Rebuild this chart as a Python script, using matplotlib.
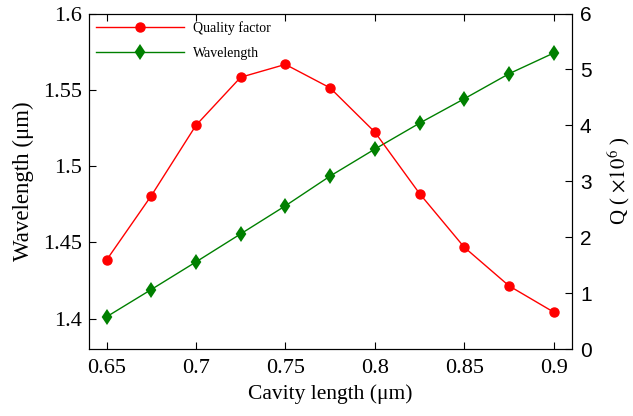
import matplotlib.pyplot as plt

# datos
longitud = [0.65, 0.675, 0.7, 0.725, 0.75, 0.775, 0.8, 0.825, 0.85, 0.875, 0.9]
onda = [1.4011, 1.4190, 1.4371, 1.4555, 1.4739, 1.4934, 1.5111, 1.5281, 1.5441, 1.5605, 1.5741]
factor_q = [1.59, 2.74, 4.00, 4.86, 5.09, 4.67, 3.88, 2.78, 1.82, 1.13, 0.66]

xticks = [0.65, 0.7, 0.75, 0.8, 0.85, 0.9]
xlabels = ["0.65", "0.7", "0.75", "0.8", "0.85", "0.9"]
yticks = [1.4, 1.45, 1.5, 1.55, 1.6]
ylabels = ["1.4", "1.45", "1.5", "1.55", "1.6"]
qticks = [0, 1, 2, 3, 4, 5, 6]

plt.rcParams['font.family'] = ['Liberation Serif', 'DejaVu Serif']
plt.rcParams['mathtext.fontset'] = 'stix'

fig = plt.figure(figsize=(6.33, 4.16), dpi=100)
ax = fig.add_axes([0.140, 0.161, 0.763, 0.8065])
ax2 = ax.twinx()

l2, = ax.plot(longitud, onda, color='#008000', marker='d', markersize=6.5,
              markeredgewidth=1.6, linewidth=1.0, label='Wavelength')
l1, = ax2.plot(longitud, factor_q, color='#ff0000', marker='o', markersize=6.5,
               linewidth=1.0, label='Quality factor')

ax.set_xlim(0.64, 0.91)
ax.set_ylim(1.38, 1.6)
ax2.set_ylim(0, 6)

ax.set_xticks(xticks)
ax.set_xticklabels(xlabels, fontsize=16)
ax.set_yticks(yticks)
ax.set_yticklabels(ylabels, fontsize=16)
ax2.set_yticks(qticks)
ax2.set_yticklabels([str(q) for q in qticks], fontsize=15, family='Liberation Sans')

ax.tick_params(direction='in', top=True, length=5, width=0.8)
ax.tick_params(axis='x', pad=7)
ax.tick_params(axis='y', pad=5)
ax2.tick_params(direction='in', length=5, width=0.8, pad=6)

ax.set_xlabel("Cavity length (μm)", fontsize=15.5, labelpad=5)
ax.set_ylabel("Wavelength (μm)", fontsize=16.5, labelpad=6)
ax2.set_ylabel(r"Q ( $\times10^6$ )", fontsize=15, labelpad=10)

leg = ax2.legend(handles=[l1, l2], loc='upper left', frameon=False, fontsize=10,
                 handlelength=6.3, borderaxespad=0.15, labelspacing=0.85,
                 handletextpad=0.7)

plt.savefig("out.png", dpi=100)
plt.close()
